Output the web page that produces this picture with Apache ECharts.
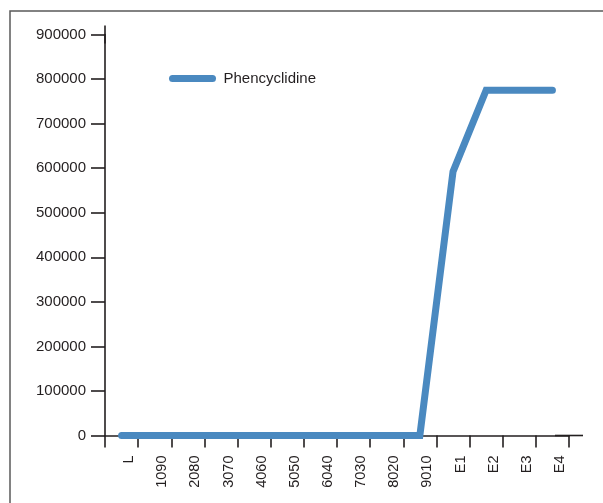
<!DOCTYPE html>
<html>
<head>
<meta charset="utf-8">
<script src="https://cdn.jsdelivr.net/npm/echarts@6/dist/echarts.min.js"></script>
<style>
  html, body { margin: 0; padding: 0; background: #fff; }
  #chart { width: 603px; height: 503px; }
</style>
</head>
<body>
<div id="chart"></div>
<script>
// Sample labels along the x axis
const categories = ['L', '1090', '2080', '3070', '4060', '5050', '6040', '7030', '8020', '9010', 'E1', 'E2', 'E3', 'E4'];
// Measured response for each sample
const phencyclidine = [0, 0, 0, 0, 0, 0, 0, 0, 0, 0, 592000, 775000, 775000, 775000];
const seriesName = 'Phencyclidine';
const yTicks = { min: 0, max: 900000, step: 100000 };

const ink = '#231f20';
const blue = '#4a89c0';
const font = 'Liberation Sans, Arial, Helvetica, sans-serif';

const chart = echarts.init(document.getElementById('chart'), null, { renderer: 'canvas' });
chart.setOption({
  animation: false,
  backgroundColor: '#fff',
  graphic: [{
    type: 'rect',
    shape: { x: 10, y: 11, width: 700, height: 700 },
    style: { fill: 'none', stroke: '#5a5a5a', lineWidth: 1.5 },
    silent: true
  }],
  grid: { left: 105, right: 34, top: 34.5, bottom: 67.5, containLabel: false },
  legend: {
    show: true,
    orient: 'horizontal',
    left: 169,
    top: 71,
    padding: 0,
    itemWidth: 40,
    itemHeight: 14,
    itemGap: 10,
    itemStyle: { opacity: 0 },
    lineStyle: { width: 7, cap: 'round', color: blue },
    textStyle: { fontFamily: font, fontSize: 15, color: ink, padding: [0, 0, 0, 6] },
    data: [seriesName]
  },
  xAxis: {
    type: 'category',
    data: categories,
    boundaryGap: true,
    axisLine: {
      lineStyle: { color: ink, width: 1.6 },
      symbol: ['none', 'rect'],
      symbolSize: [1.6, 28]
    },
    axisTick: { show: true, length: 12, lineStyle: { color: ink, width: 1.6 } },
    axisLabel: {
      rotate: 90,
      margin: 20,
      interval: 0,
      verticalAlign: 'top',
      fontFamily: font,
      fontSize: 14.5,
      color: ink
    },
    splitLine: { show: false }
  },
  yAxis: {
    type: 'value',
    min: yTicks.min,
    max: yTicks.max,
    interval: yTicks.step,
    axisLine: {
      show: true,
      lineStyle: { color: ink, width: 1.6 },
      symbol: ['none', 'rect'],
      symbolSize: [1.6, 18]
    },
    axisTick: { show: true, length: 14, lineStyle: { color: ink, width: 1.6 } },
    axisLabel: {
      margin: 19,
      fontFamily: font,
      fontSize: 15,
      color: ink,
      formatter: (v) => String(v)
    },
    splitLine: { show: false }
  },
  series: [{
    name: seriesName,
    type: 'line',
    data: phencyclidine,
    showSymbol: false,
    symbol: 'none',
    lineStyle: { color: blue, width: 7, cap: 'round', join: 'miter' },
    itemStyle: { color: blue }
  }]
});
</script>
</body>
</html>
